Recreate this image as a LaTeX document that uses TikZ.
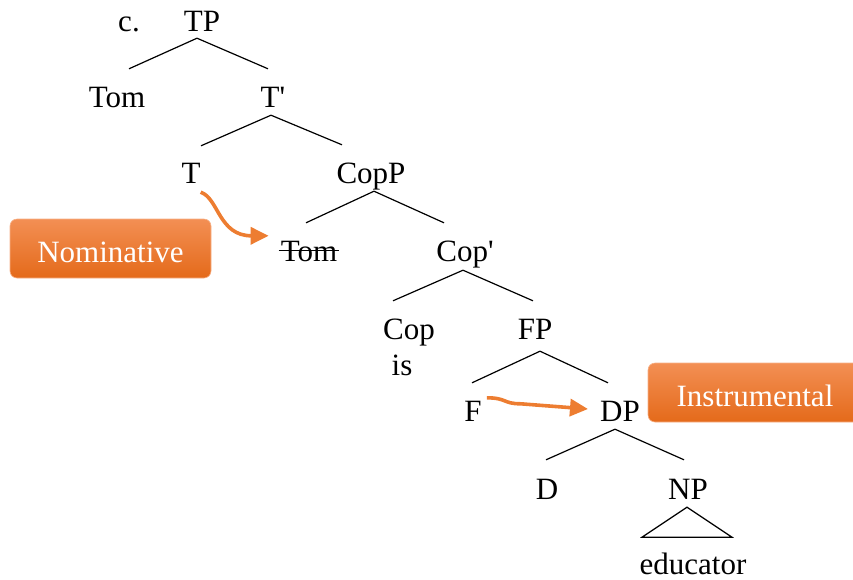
\documentclass[tikz,border=0pt]{standalone}
\usepackage{fontspec}
\setmainfont{Liberation Serif}
\usepackage{tikz}
\usetikzlibrary{arrows.meta, positioning}
\definecolor{orangeline}{RGB}{237,125,49}
\definecolor{orangetop}{RGB}{243,143,84}
\definecolor{orangebot}{RGB}{228,106,26}
\newcommand{\barmark}{\textquotesingle}

\begin{document}
\begin{tikzpicture}[x=1pt, y=1pt,
    lbl/.style={anchor=base, inner sep=0pt, text height=21pt, text depth=0pt,
        font=\fontsize{31pt}{36pt}\selectfont},
    branch/.style={line width=1.2pt},
    casebox/.style={rounded corners=7pt, top color=orangetop, bottom color=orangebot,
        draw=orangetop!70!white, line width=0.6pt, text=white, inner sep=0pt,
        minimum height=59pt, text height=28pt, text depth=0pt,
        font=\fontsize{31pt}{36pt}\selectfont},
    casearrow/.style={draw=orangeline, line width=3.6pt,
        -{Triangle[length=18pt, width=17pt]}}]
    \useasboundingbox (0,0) rectangle (853,-579);

    % hang "c." en top van de boom
    \node[lbl] (ex) at (129,-31) {c.};
    \node[lbl] (tp) at (202,-31) {TP};

    % rij 2
    \node[lbl] (tom) at (117,-107) {Tom};
    \node[lbl] (tbar) at (273,-107) {T\barmark};

    % rij 3
    \node[lbl] (t) at (191,-183) {T};
    \node[lbl] (copp) at (371,-183) {CopP};

    % rij 4: spoor van Tom (doorgestreept)
    \node[lbl] (tomx) at (309,-261) {Tom};
    \draw[line width=1.6pt, shorten <=-2pt, shorten >=-2pt] (tomx.west) -- (tomx.east);
    \node[lbl] (copbar) at (465,-261) {Cop\barmark};

    % rij 5
    \node[lbl] (cop) at (409,-339) {Cop};
    \node[lbl] (is) at (402,-375) {is};
    \node[lbl] (fp) at (535,-339) {FP};

    % rij 6
    \node[lbl] (f) at (473,-421) {F};
    \node[lbl] (dp) at (620,-421) {DP};

    % rij 7
    \node[lbl] (d) at (547,-499) {D};
    \node[lbl] (np) at (688,-499) {NP};
    \node[lbl] (educ) at (693,-574) {educator};

    % takken
    \draw[branch] ([shift={(12pt,17pt)}]tom.north) -- ([shift={(-5pt,-7pt)}]tp.south)
        -- ([shift={(-5pt,17pt)}]tbar.north);
    \draw[branch] ([shift={(10pt,16pt)}]t.north) -- ([shift={(-2pt,-8pt)}]tbar.south)
        -- ([shift={(-29pt,17pt)}]copp.north);
    \draw[branch] ([shift={(-3pt,17pt)}]tomx.north) -- ([shift={(3pt,-8pt)}]copp.south)
        -- ([shift={(-21pt,17pt)}]copbar.north);
    \draw[branch] ([shift={(-16pt,17pt)}]cop.north) -- ([shift={(-2pt,-9pt)}]copbar.south)
        -- ([shift={(-2pt,17pt)}]fp.north);
    \draw[branch] ([shift={(-1pt,17pt)}]f.north) -- ([shift={(5pt,-12pt)}]fp.south)
        -- ([shift={(-12pt,17pt)}]dp.north);
    \draw[branch] ([shift={(-1pt,18pt)}]d.north) -- ([shift={(-5pt,-8pt)}]dp.south)
        -- ([shift={(-4pt,18pt)}]np.north);

    % driehoek onder NP
    \draw[branch] ([shift={(-1pt,-8pt)}]np.south) -- ([shift={(-46pt,-38pt)}]np.south)
        -- ([shift={(44pt,-38pt)}]np.south) -- cycle;

    % naamvallen
    \node[casebox, minimum width=201pt] (nom) at (110.5,-248.5) {Nominative};
    \node[casebox, minimum width=214pt] (instr) at (755,-392.5) {Instrumental};

    % pijlen
    \draw[casearrow] ([shift={(0pt,-9pt)}]t.south east)
        .. controls +(18pt,-6pt) and +(-50pt,0pt) .. ([shift={(-12pt,4pt)}]tomx.north west);
    \draw[casearrow] ([shift={(5pt,2pt)}]f.north east)
        .. controls +(20pt,0pt) and +(-18pt,0pt) .. +(34pt,-6pt)
        -- ([shift={(-12pt,1.5pt)}]dp.west);
\end{tikzpicture}
\end{document}
